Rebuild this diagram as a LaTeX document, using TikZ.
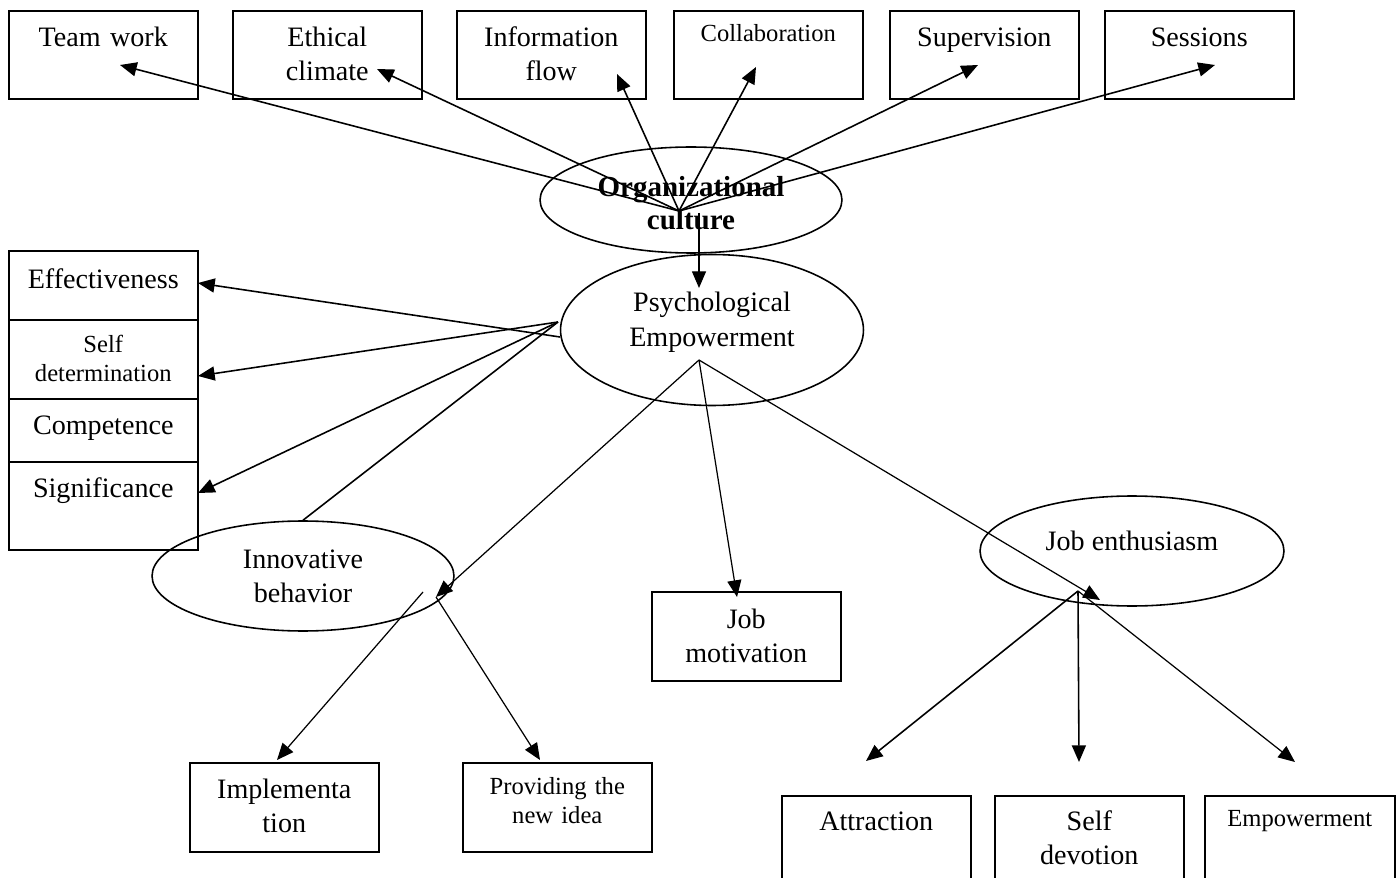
\documentclass[tikz,border=0pt]{standalone}
\usepackage{fontspec}
\setmainfont{Liberation Serif}
\usetikzlibrary{shapes.geometric,arrows.meta}

\begin{document}
\begin{tikzpicture}[x=0.02cm,y=-0.02cm,>={Triangle[length=9.5pt,width=8pt]},line width=0.9pt,
  box/.style={draw,rectangle,inner sep=0pt,anchor=north west,align=center,minimum width=3.78cm,text width=3.78cm,text height=0.72cm,text depth=1.04cm,font=\fontsize{16}{19.3}\selectfont},
  small/.style={font=\fontsize{14}{16.5}\selectfont,text height=0.62cm},
  oval/.style={draw,ellipse,inner sep=0pt,align=center,minimum width=6.04cm,font=\fontsize{16}{19.5}\selectfont},
  thinline/.style={line width=0.7pt}]

            \useasboundingbox (0,0) rectangle (1396,878);

            % top row
            \node[box] (1) at (8,10) {Team work};
            \node[box] (2) at (232,10) {Ethical\\climate};
            \node[box] (3) at (456,10) {Information\\flow};
            \node[box,small,text depth=1.14cm] (4) at (673,10) {Collaboration};
            \node[box] (5) at (889,10) {Supervision};
            \node[box] (6) at (1104,10) {Sessions};

            \node[oval,minimum height=2.12cm,text width=4cm,text height=19pt,text depth=22.5pt,font=\fontsize{16.5}{18.5}\selectfont\bfseries] (7) at (691,200) {Organizational\\culture};
            \node[oval,minimum width=6.06cm,minimum height=3.02cm,text width=4cm,text height=11pt,text depth=31.5pt] (8) at (712,330) {Psychological\\Empowerment};

            % left stack
            \node[box,text height=0.76cm,text depth=0.62cm] (9) at (8,250) {Effectiveness};
            \node[box,small,text height=0.66cm,text depth=0.92cm] (10) at (8,319) {Self\\determination};
            \node[box,text depth=0.54cm] (11) at (8,398) {Competence};
            \node[box] (12) at (8,461) {Significance};

            \node[oval,minimum height=2.2cm] (13) at (303,576) {Innovative\\behavior};
            \node[box,text depth=1.06cm] (14) at (189,762) {Implementa\\tion};
            \node[box,small,text height=0.64cm,text depth=1.14cm] (15) at (462,762) {Providing the\\new idea};

            \node[box,text height=0.74cm,text depth=1.04cm] (16) at (651,591) {Job\\motivation};
            \node[oval,minimum width=6.08cm,minimum height=2.2cm,text height=12pt,text depth=13pt] (17) at (1132,551) {Job enthusiasm};

            \node[box,text height=0.70cm,text depth=1.2cm] (18) at (781,795) {Attraction};
            \node[box,text height=0.70cm,text depth=1.2cm] (19) at (994,795) {Self\\devotion};
            \node[box,small,text height=0.62cm,text depth=1.28cm,minimum width=3.8cm,text width=3.8cm] (20) at (1204,795) {Empowerment};

            % hubs and arrow ends
            \coordinate (a) at (679,211);
            \coordinate (b) at (558,322);
            \coordinate (c) at (699,360);
            \coordinate (d) at (1078,591);
            \coordinate (e) at (560,337);
            \coordinate (f) at (423,592);
            \coordinate (g) at (436,597);

            \draw[->] (a) to (120,65);
            \draw[->] (a) to (377,69);
            \draw[->] (a) to (617,74);
            \draw[->] (a) to (756,67);
            \draw[->] (a) to (978,65);
            \draw[->] (a) to (1215,65);
            \draw[->,thinline] (699,213) to (699,288);

            \draw[->] (e) to (198,283);
            \draw[->] (b) to (198,376);
            \draw[->] (b) to (198,493);
            \draw[-] (b) to (13.north);

            \draw[->,thinline] (c) to (g);
            \draw[->,thinline] (c) to (737,597);
            \draw[->,thinline] (c) to (1100,600);

            \draw[->,thinline] (f) to (277,760);
            \draw[->,thinline] (g) to (540,760);

            \draw[->] (d) to (866,761);
            \draw[->] (d) to (1079,762);
            \draw[->,thinline] (d) to (1295,762);

            ;
        \end{tikzpicture}
\end{document}
